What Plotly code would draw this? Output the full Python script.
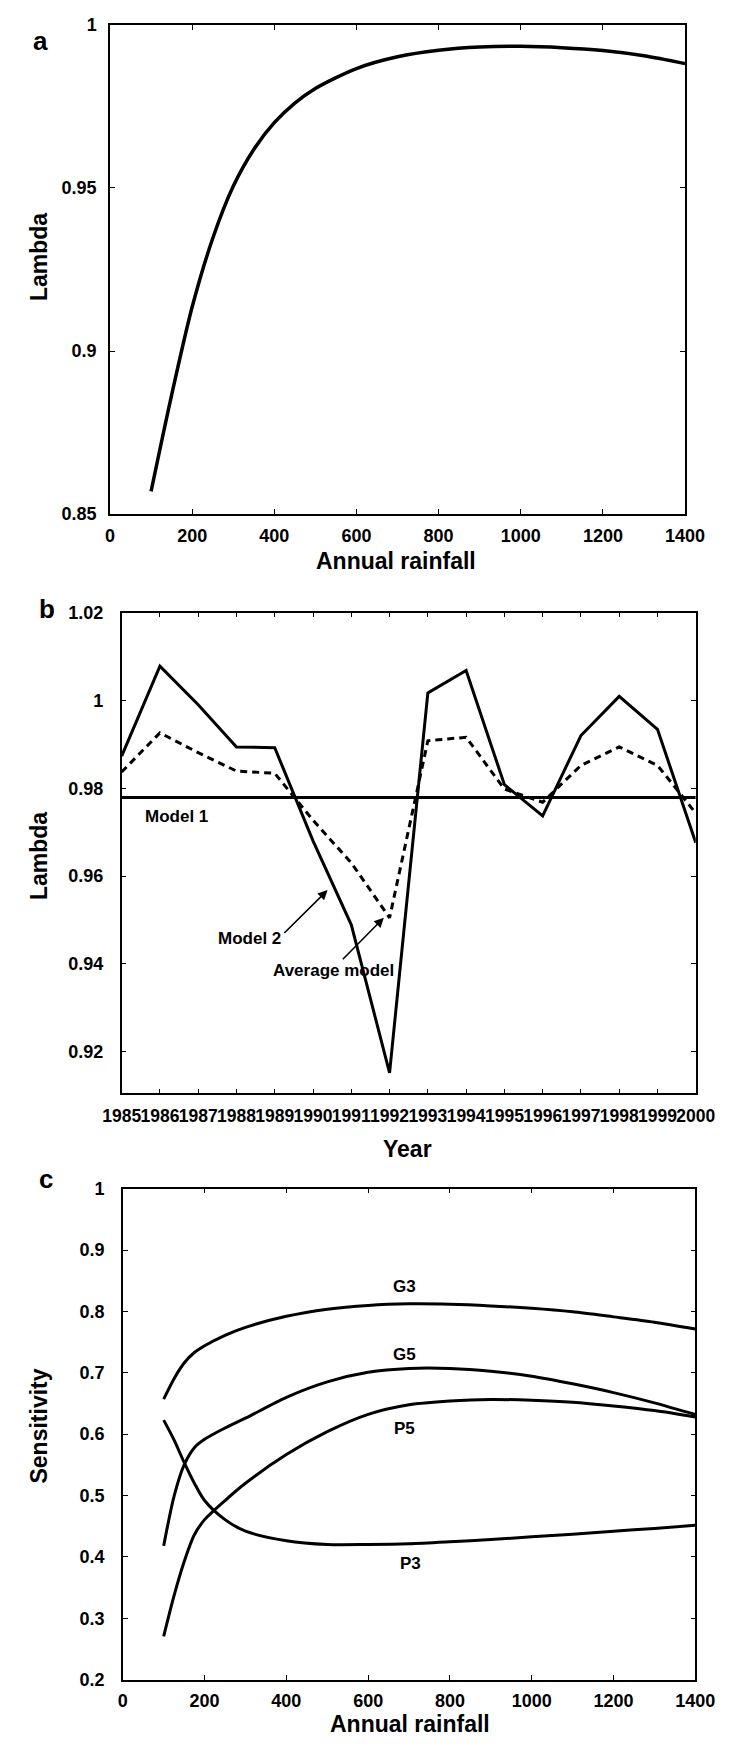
import plotly.graph_objects as go

W, H = 748, 1747

# ---------- Panel a data ----------
rain_a = [100, 150, 200, 250, 300, 350, 400, 450, 500, 600, 700, 800, 900, 1000, 1100, 1200, 1300, 1400]
lambda_a = [0.857, 0.8865, 0.9135, 0.9345, 0.9505, 0.9618, 0.9700, 0.9760, 0.9805, 0.9866, 0.9902,
            0.9922, 0.9932, 0.9934, 0.9930, 0.9921, 0.9905, 0.9881]

# ---------- Panel b data ----------
years = list(range(1985, 2001))
model2 = [0.9873, 1.0078, 0.9990, 0.9894, 0.9892, 0.9680, 0.9489, 0.9152, 1.0017, 1.0068,
          0.9808, 0.9737, 0.9920, 1.0009, 0.9934, 0.9676]
average_model = [0.9837, 0.9926, 0.9881, 0.9839, 0.9834, 0.9727, 0.9630, 0.9505, 0.9908, 0.9916,
                 0.9798, 0.9768, 0.9852, 0.9894, 0.9852, 0.9743]
model1_value = 0.9779
model1 = [model1_value] * len(years)

# ---------- Panel c data ----------
rain_c = [100, 125, 150, 175, 200, 250, 300, 400, 500, 600, 700, 800, 900, 1000, 1100, 1200, 1300, 1400]
G3 = [0.657, 0.690, 0.716, 0.733, 0.744, 0.761, 0.774, 0.792, 0.8036, 0.8098, 0.8123, 0.8117,
      0.809, 0.805, 0.7993, 0.7911, 0.7824, 0.7712]
G5 = [0.418, 0.498, 0.550, 0.578, 0.5916, 0.610, 0.626, 0.660, 0.6852, 0.7007, 0.707, 0.707,
      0.7026, 0.6945, 0.682, 0.6677, 0.651, 0.632]
P5 = [0.2706, 0.336, 0.392, 0.436, 0.4607, 0.4919, 0.520, 0.5667, 0.604, 0.6322, 0.6478, 0.654,
      0.6565, 0.6552, 0.652, 0.6459, 0.6384, 0.6278]
P3 = [0.6228, 0.591, 0.554, 0.520, 0.4919, 0.4607, 0.442, 0.4264, 0.4202, 0.4202, 0.4214, 0.4246,
      0.4283, 0.4327, 0.437, 0.442, 0.4464, 0.4514]

FONT = "Liberation Sans, Arial, Helvetica, sans-serif"
BLK = "black"

fig = go.Figure()

# Panel a
fig.add_trace(go.Scatter(x=rain_a, y=lambda_a, mode="lines", line=dict(color=BLK, width=3.5, shape="spline", smoothing=0.8),
                         xaxis="x", yaxis="y", showlegend=False))
# Panel b
fig.add_trace(go.Scatter(x=years, y=model1, mode="lines", line=dict(color=BLK, width=3),
                         xaxis="x2", yaxis="y2", showlegend=False))
fig.add_trace(go.Scatter(x=years, y=average_model, mode="lines", line=dict(color=BLK, width=3, dash="7px,5px"),
                         xaxis="x2", yaxis="y2", showlegend=False))
fig.add_trace(go.Scatter(x=years, y=model2, mode="lines", line=dict(color=BLK, width=3),
                         xaxis="x2", yaxis="y2", showlegend=False))
# Panel c
for ys in (G3, G5, P5, P3):
    fig.add_trace(go.Scatter(x=rain_c, y=ys, mode="lines", line=dict(color=BLK, width=3, shape="spline", smoothing=0.8),
                             xaxis="x3", yaxis="y3", showlegend=False))


def xd(l, r):
    return [l / W, r / W]


def yd(top, bottom):
    return [1 - bottom / H, 1 - top / H]


TICKFONT = dict(family=FONT, size=18, color=BLK, weight="bold")
axis_common = dict(showline=True, linecolor=BLK, linewidth=1.5, mirror="ticks", ticks="inside",
                   ticklen=5, tickcolor=BLK, tickwidth=1.3, showgrid=False, zeroline=False,
                   tickfont=TICKFONT, tickangle=0)

fig.update_layout(
    width=W, height=H, margin=dict(l=0, r=0, t=0, b=0),
    paper_bgcolor="white", plot_bgcolor="white",
    xaxis=dict(domain=xd(96, 702.7), range=[0, 1400], dtick=200, anchor="y", ticklabelstandoff=4, **axis_common),
    yaxis=dict(domain=yd(15, 510), range=[0.85, 1], dtick=0.05, anchor="x", ticklabelstandoff=8, **axis_common),
    xaxis2=dict(domain=xd(108.3, 714), range=[1985, 2000], dtick=1, anchor="y2", ticklabelstandoff=6,
                **{**axis_common, "tickfont": dict(family=FONT, size=17.5, color=BLK, weight="bold")}),
    yaxis2=dict(domain=yd(609.5, 1096), range=[0.9105, 1.02], tickvals=[0.92, 0.94, 0.96, 0.98, 1.0, 1.02],
                anchor="x2", ticklabelstandoff=13, **axis_common),
    xaxis3=dict(domain=xd(109.5, 713.5), range=[0, 1400], dtick=200, anchor="y3", ticklabelstandoff=4, **axis_common),
    yaxis3=dict(domain=yd(1192.3, 1689), range=[0.2, 1], dtick=0.1, anchor="x3", ticklabelstandoff=13, **axis_common),
)

ann = []


def ptext(text, x, y, size=23, angle=0):
    ann.append(dict(text=text, x=x / W, y=1 - y / H, xref="paper", yref="paper", showarrow=False,
                    textangle=angle, xanchor="center", yanchor="middle",
                    font=dict(family=FONT, size=size, color=BLK, weight="bold")))


# panel letters
ptext("a", 23, 31, 26)
ptext("b", 30, 606, 26)
ptext("c", 29, 1183, 26)
# axis titles
ptext("Lambda", 21, 250, 23, -90)
ptext("Annual rainfall", 398, 557, 23)
ptext("Lambda", 21, 856, 23, -90)
ptext("Year", 410, 1152, 23)
ptext("Sensitivity", 21, 1432, 23, -90)
ptext("Annual rainfall", 413, 1734, 23)


def dtext(text, x, y, xr, yr, size=17):
    ann.append(dict(text=text, x=x, y=y, xref=xr, yref=yr, showarrow=False, xanchor="center", yanchor="middle",
                    font=dict(family=FONT, size=size, color=BLK, weight="bold")))


def darrow(x, y, ax, ay, xr, yr):
    ann.append(dict(text="", x=x, y=y, ax=ax, ay=ay, xref=xr, yref=yr, axref=xr, ayref=yr,
                    showarrow=True, arrowhead=2, arrowsize=1.2, arrowwidth=1.6, arrowcolor=BLK))


dtext("Model 1", 1986.44, 0.9735, "x2", "y2")
dtext("Model 2", 1988.34, 0.9457, "x2", "y2")
dtext("Average model", 1990.53, 0.9384, "x2", "y2")
darrow(1990.38, 0.9568, 1989.21, 0.9467, "x2", "y2")
darrow(1991.85, 0.9505, 1990.74, 0.9407, "x2", "y2")

dtext("G3", 688, 0.8398, "x3", "y3")
dtext("G5", 690, 0.729, "x3", "y3")
dtext("P5", 690, 0.609, "x3", "y3")
dtext("P3", 703, 0.389, "x3", "y3")

fig.update_layout(annotations=ann)

fig.write_html("out.html")
